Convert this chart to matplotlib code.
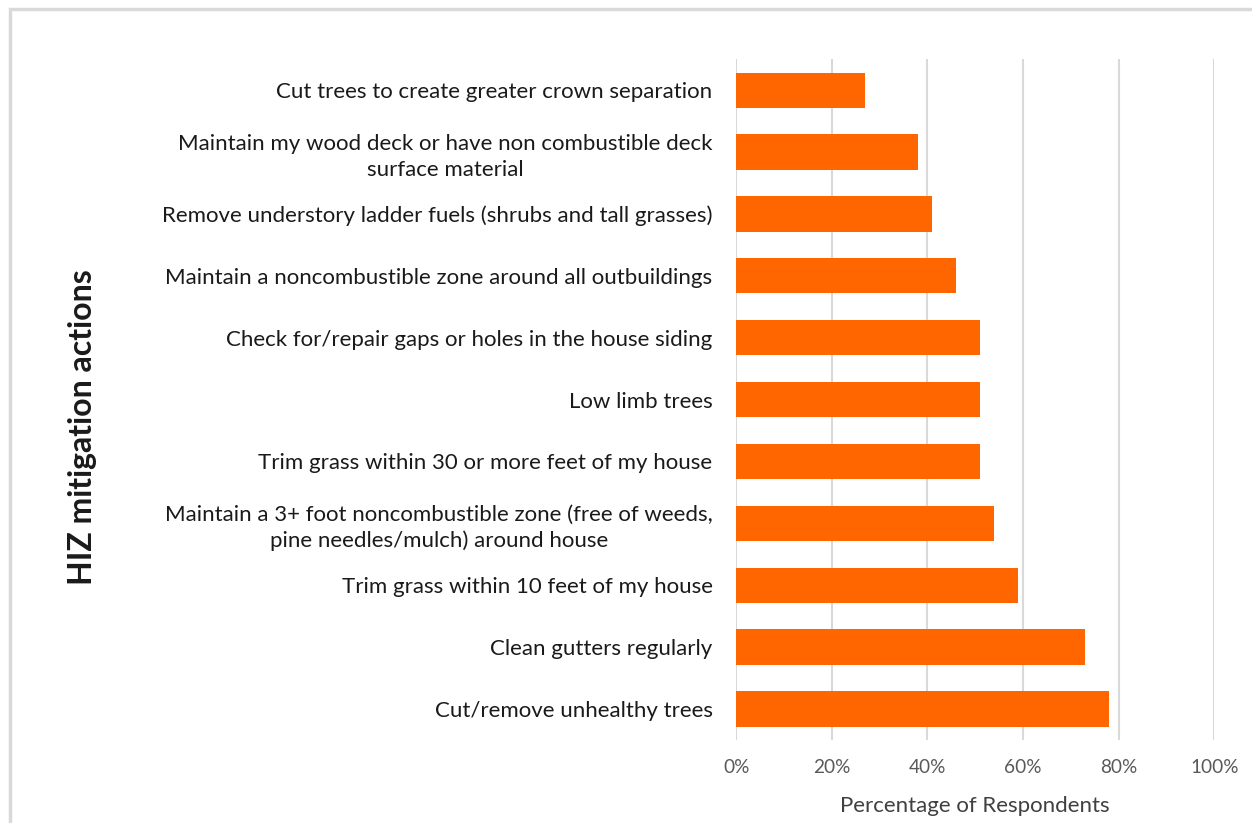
import matplotlib.pyplot as plt
from matplotlib.patches import Rectangle
from matplotlib.ticker import PercentFormatter

# survey results, top row of chart first
actions = [
    'Cut trees to create greater crown separation',
    'Maintain my wood deck or have non combustible deck\nsurface material',
    'Remove understory ladder fuels (shrubs and tall grasses)',
    'Maintain a noncombustible zone around all outbuildings',
    'Check for/repair gaps or holes in the house siding',
    'Low limb trees',
    'Trim grass within 30 or more feet of my house',
    'Maintain a 3+ foot noncombustible zone (free of weeds,\npine needles/mulch) around house',
    'Trim grass within 10 feet of my house',
    'Clean gutters regularly',
    'Cut/remove unhealthy trees',
]
pct = [27, 38, 41, 46, 51, 51, 51, 54, 59, 73, 78]
xticks = [0, 20, 40, 60, 80, 100]

plt.rcParams['font.family'] = ['Lato', 'DejaVu Sans']

fig = plt.figure(figsize=(12.52, 8.23), dpi=100)
ax = fig.add_axes([0.588, 0.101, 0.382, 0.827])

ypos = list(range(len(actions)))
ax.barh(ypos, pct, height=0.57, color='#ff6600', zorder=3)
ax.set_ylim(len(actions) - 0.5, -0.5)
ax.set_xlim(0, 100)

ax.set_yticks(ypos)
ax.set_yticklabels(actions, fontsize=16, color='#1a1a1a', multialignment='center',
                   linespacing=1.35)
ax.tick_params(axis='y', length=0, pad=17)

ax.set_xticks(xticks)
ax.xaxis.set_major_formatter(PercentFormatter(decimals=0))
ax.tick_params(axis='x', length=0, pad=14, labelsize=13.7, labelcolor='#595959')
ax.grid(axis='x', color='#d9d9d9', linewidth=1.5, zorder=0)

for s in ax.spines.values():
    s.set_visible(False)

ax.set_xlabel('Percentage of Respondents', fontsize=16, color='#404040', labelpad=14)
fig.text(0.066, 0.481, 'HIZ mitigation actions', rotation=90, fontsize=23,
         fontweight='bold', ha='center', va='center', color='#1a1a1a')

# light frame around the chart (runs off right and bottom edge)
fig.patches.append(Rectangle((0.008, -0.05), 1.05, 1.039, transform=fig.transFigure,
                             fill=False, edgecolor='#d9d9d9', linewidth=2.5))

fig.savefig('out.png', dpi=100)
